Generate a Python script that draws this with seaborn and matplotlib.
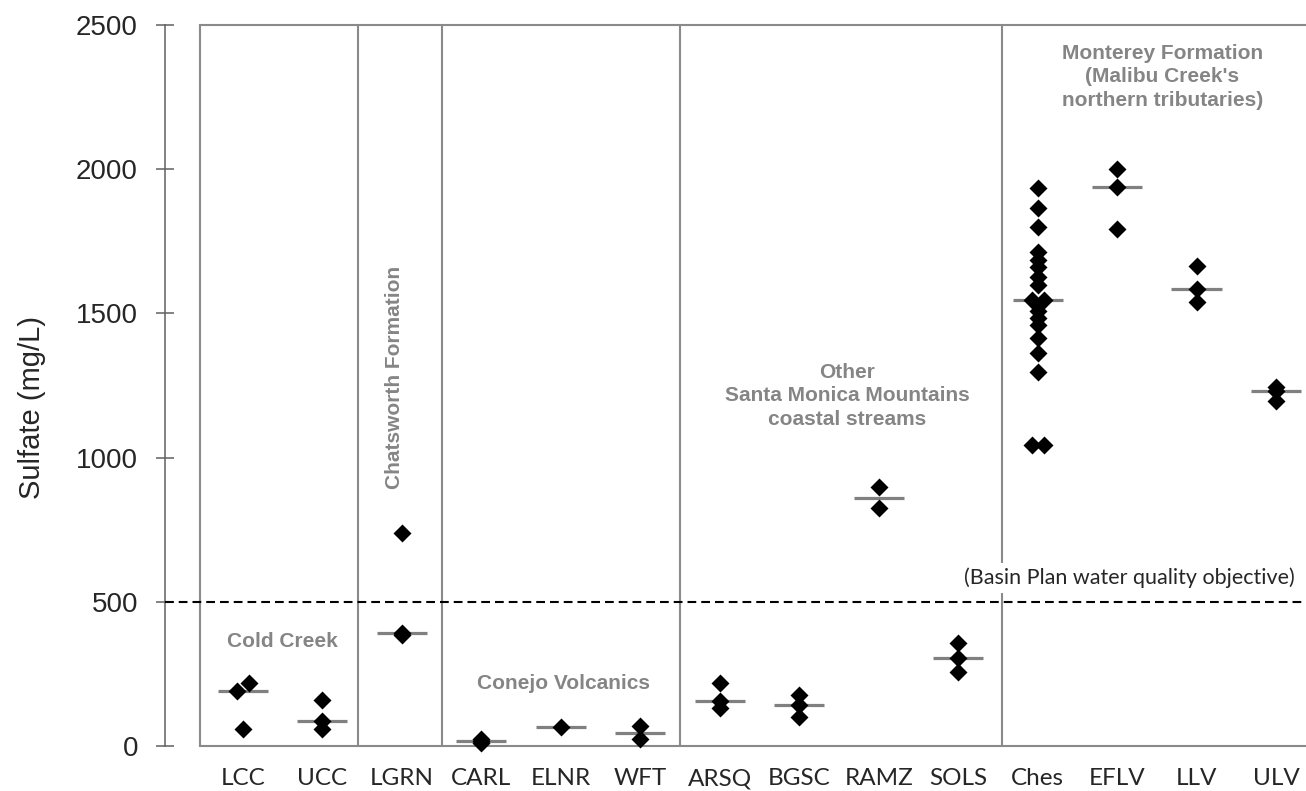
import matplotlib
matplotlib.use("Agg")
import matplotlib.pyplot as plt
import pandas as pd
import seaborn as sns

# Sampling sites, left to right
sites = ["LCC", "UCC", "LGRN", "CARL", "ELNR", "WFT", "ARSQ",
         "BGSC", "RAMZ", "SOLS", "Ches", "EFLV", "LLV", "ULV"]

# Sulfate concentrations (mg/L) per site
lcc = [217, 191, 58]
ucc = [160, 85, 60]
lgrn = [740, 391, 386]
carl = [24, 17, 11]
elnr = [65]
wft = [68, 25]
arsq = [217, 157, 131]
bgsc = [177, 143, 102]
ramz = [899, 824]
sols = [358, 304, 258]
ches = [1934, 1864, 1799, 1714, 1685, 1662, 1627, 1598, 1545, 1545,
        1510, 1485, 1460, 1414, 1362, 1298, 1044, 1044]
eflv = [2000, 1937, 1792]
llv = [1664, 1583, 1541]
ulv = [1246, 1232, 1196]

objective = 500  # Basin Plan water quality objective (mg/L)

# Samples that are drawn side by side instead of on top of each other
# (-1 = left, +1 = right, 0 = centred)
side_by_side = {
    "LCC": [1, -1, 0],
    "Ches": [0] * 8 + [-1, 1] + [0] * 6 + [-1, 1],
}
nudge = 0.075

samples = dict(zip(sites, [lcc, ucc, lgrn, carl, elnr, wft, arsq, bgsc,
                           ramz, sols, ches, eflv, llv, ulv]))
rows = []
for i, site in enumerate(sites):
    vals = samples[site]
    sides = side_by_side.get(site, [0] * len(vals))
    for v, sd in zip(vals, sides):
        rows.append({"site": site, "pos": i + sd * nudge, "sulfate": v})
df = pd.DataFrame(rows)

sns.set_theme(style="white")
plt.rcParams["font.family"] = ["Liberation Sans", "DejaVu Sans"]

W, H = 1306, 791
fig = plt.figure(figsize=(W / 100, H / 100), dpi=100)
ax = fig.add_axes([200 / W, 45 / H, 1106 / W, 721 / H])

frame_grey = "#8a8a8a"
label_grey = "#858585"

# Median bars
sns.boxplot(data=df, x="site", y="sulfate", order=sites, width=0.63,
            whis=0, showbox=False, showcaps=False, showfliers=False,
            medianprops=dict(color="#808080", linewidth=2.3,
                             solid_capstyle="butt"),
            whiskerprops=dict(linewidth=0), ax=ax)

# Individual samples
sns.scatterplot(data=df, x="pos", y="sulfate", marker="D", s=84,
                color="black", linewidth=0, ax=ax, zorder=4,
                clip_on=False, legend=False)

ax.set_xlim(-0.541, 13.378)
ax.set_ylim(0, 2500)
ax.set_yticks(range(0, 2501, 500))
ax.set_xticks(range(len(sites)), sites)
ax.set_xlabel("")
ax.set_ylabel("Sulfate (mg/L)", fontsize=21)
ax.yaxis.set_label_coords(-0.139, 0.47)

# Frame and separate y axis
for side in ["top", "bottom"]:
    ax.spines[side].set_color(frame_grey)
    ax.spines[side].set_linewidth(1.5)
ax.spines["right"].set_visible(False)
ax.spines["left"].set_position(("outward", 25.2))
ax.spines["left"].set_color("#606060")
ax.spines["left"].set_linewidth(1.1)
ax.plot([0, 0], [0, 1], transform=ax.transAxes, color=frame_grey,
        lw=1.5, clip_on=False, zorder=1)

ax.tick_params(axis="y", direction="inout", length=13, width=1.1,
               color="#606060", pad=13, labelsize=20, left=True)
ax.tick_params(axis="x", length=0, pad=16, labelsize=17.5)
for lbl in ax.get_xticklabels():
    lbl.set_fontfamily(["Lato", "DejaVu Sans"])

# Group separators
for xs in [1.45, 2.5, 5.5, 9.55]:
    ax.axvline(xs, color=frame_grey, lw=1.5, zorder=1)

# Water quality objective
ax.axhline(objective, xmin=-35 / 1106, xmax=1, color="black", lw=1.5,
           ls=(0, (4.2, 2.4)), clip_on=False, zorder=3)
ax.annotate("(Basin Plan water quality objective)", xy=(13.24, objective),
            xytext=(0, 17), textcoords="offset points", ha="right",
            va="center", fontsize=15.5, family=["Lato", "DejaVu Sans"],
            bbox=dict(fc="white", ec="none", pad=3.5), zorder=3)

# Group labels
gkw = dict(color=label_grey, fontsize=15, fontweight="bold",
           ha="center", va="center", linespacing=1.32, zorder=3)
ax.text(0.49, 361, "Cold Creek", **gkw)
ax.text(1.913, 1279, "Chatsworth Formation", rotation=90, **gkw)
ax.text(4.03, 218, "Conejo Volcanics", **gkw)
ax.text(7.6, 1214, "Other\nSanta Monica Mountains\ncoastal streams", **gkw)
ax.text(11.57, 2320, "Monterey Formation\n(Malibu Creek's\nnorthern tributaries)", **gkw)

fig.savefig("out.png", dpi=100)
